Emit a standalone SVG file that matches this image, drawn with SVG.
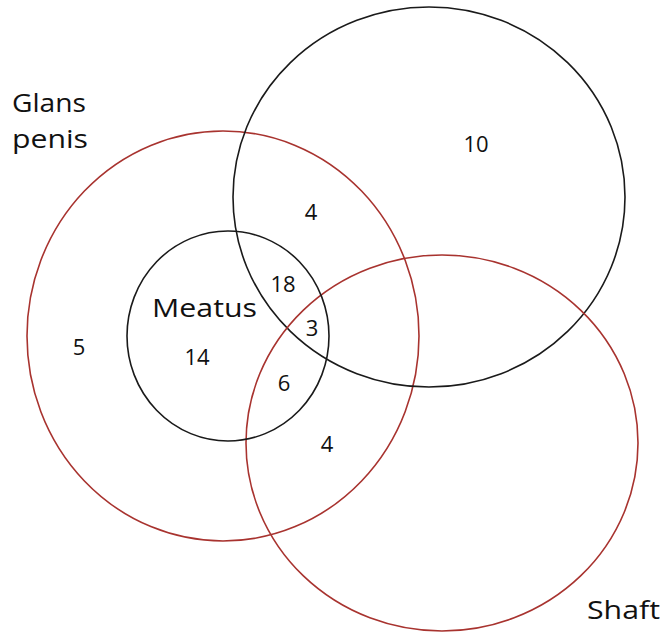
<svg xmlns="http://www.w3.org/2000/svg" width="661" height="632" viewBox="0 0 661 632">
<style>
.red{fill:none;stroke:#a8332f;stroke-width:1.6}
.blk{fill:none;stroke:#1a1a1a;stroke-width:1.6}
.lbl{font-family:"Open Sans","Liberation Sans",sans-serif;font-size:26px;fill:#111}
.num{font-family:"Open Sans","Liberation Sans",sans-serif;font-size:22px;fill:#111;text-anchor:middle}
</style>
<rect width="661" height="632" fill="#fff"/>
<g id="glans"><ellipse class="red" cx="223" cy="336" rx="196" ry="205"/></g>
<g id="top"><ellipse class="blk" cx="429" cy="197" rx="196" ry="190"/></g>
<g id="shaft"><ellipse class="red" cx="442" cy="443" rx="196" ry="188"/></g>
<g id="meatus"><ellipse class="blk" cx="228" cy="336" rx="101" ry="105"/></g>
<g id="labels">
<text class="lbl" x="12" y="112" textLength="74" lengthAdjust="spacingAndGlyphs">Glans</text>
<text class="lbl" x="12" y="148" textLength="76" lengthAdjust="spacingAndGlyphs">penis</text>
<text class="lbl" x="152" y="317" textLength="105" lengthAdjust="spacingAndGlyphs">Meatus</text>
<text class="lbl" x="587" y="619" textLength="73" lengthAdjust="spacingAndGlyphs">Shaft</text>
</g>
<g id="counts">
<text class="num" x="476" y="152">10</text>
<text class="num" x="311" y="220">4</text>
<text class="num" x="283" y="292">18</text>
<text class="num" x="312" y="336">3</text>
<text class="num" x="79" y="355">5</text>
<text class="num" x="197" y="365">14</text>
<text class="num" x="284" y="391">6</text>
<text class="num" x="327" y="452">4</text>
</g>
</svg>
